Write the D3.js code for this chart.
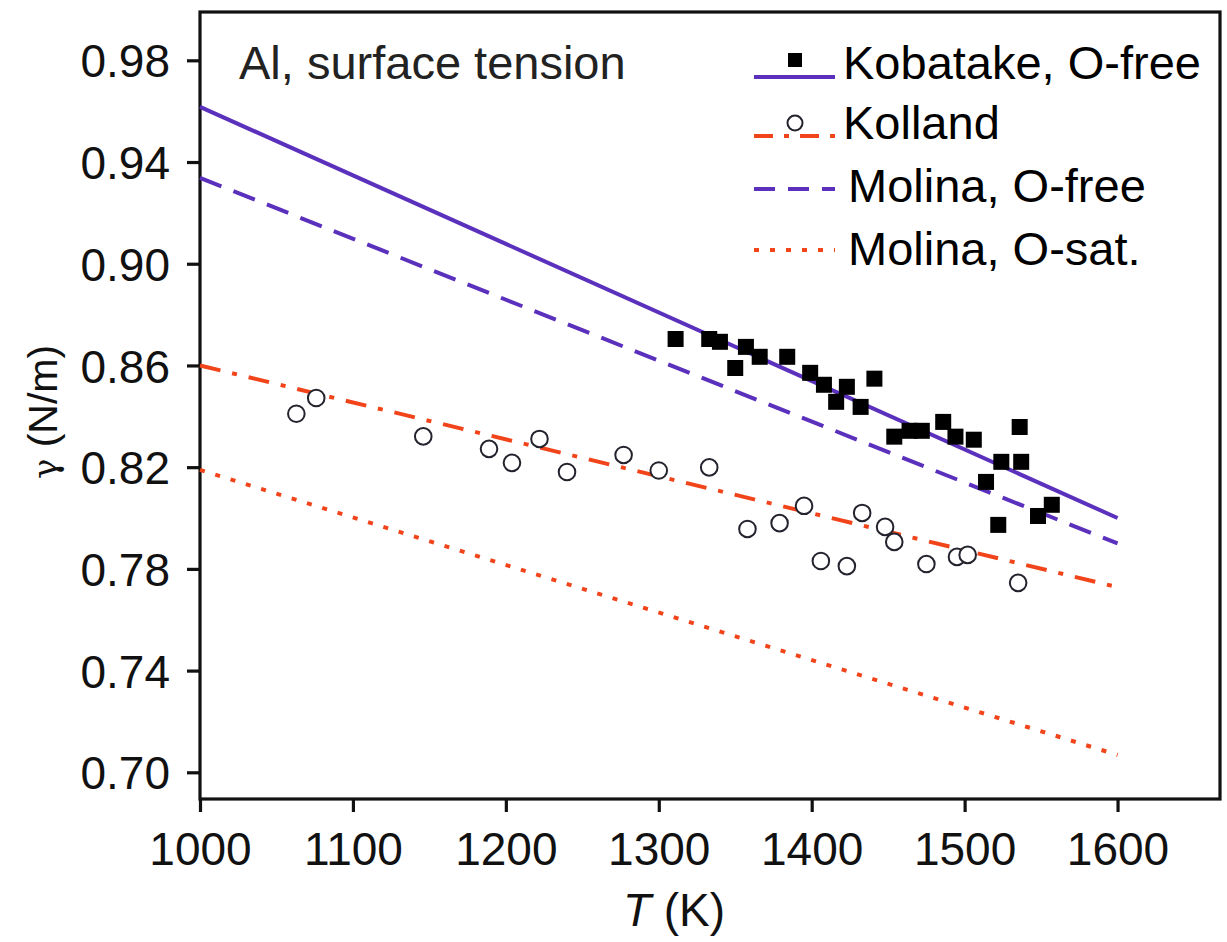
<!DOCTYPE html>
<html lang="en">
<head>
<meta charset="utf-8">
<title>Al surface tension</title>
<script src="https://d3js.org/d3.v7.min.js"></script>
<style>
  body { margin: 0; background: #fff; }
  svg text { font-family: "Liberation Sans", Arial, Helvetica, sans-serif; }
</style>
</head>
<body>
<div id="chart"></div>
<script>
// data
const kobatakeT = [1311, 1333, 1340, 1350, 1357, 1366, 1384, 1399, 1408, 1416, 1423, 1432, 1441,
  1454, 1464, 1472, 1486, 1494, 1506, 1514, 1522, 1524, 1536, 1537, 1548, 1557];
const kobatakeG = [0.8704, 0.8704, 0.8693, 0.8590, 0.8673, 0.8634, 0.8634, 0.8571, 0.8524, 0.8457, 0.8516, 0.8437, 0.8548,
  0.8320, 0.8343, 0.8343, 0.8378, 0.8320, 0.8308, 0.8142, 0.7973, 0.8221, 0.8358, 0.8221, 0.8008, 0.8052];

const kollandT = [1063, 1076, 1146, 1189, 1204, 1222, 1240, 1277, 1300, 1333, 1358, 1379, 1395,
  1406, 1423, 1433, 1448, 1454, 1475, 1495, 1502, 1535];
const kollandG = [0.8410, 0.8472, 0.8321, 0.8272, 0.8217, 0.8311, 0.8181, 0.8248, 0.8187, 0.8199, 0.7957, 0.7980, 0.8048,
  0.7831, 0.7811, 0.8020, 0.7965, 0.7906, 0.7819, 0.7847, 0.7855, 0.7745];

const fitT = [1000, 1600];
const kobatakeFit = [0.9617, 0.8000];
const kollandFit = [0.8600, 0.7728];
const molinaFreeFit = [0.9338, 0.7900];
const molinaSatFit = [0.8189, 0.7068];

const xTicks = [1000, 1100, 1200, 1300, 1400, 1500, 1600];
const yTicks = [0.70, 0.74, 0.78, 0.82, 0.86, 0.90, 0.94, 0.98];

const purple = "#5a30bd";
const orange = "#f2441a";

const drawChart = () => {
  const width = 1227, height = 942;
  const mLeft = 200, mRight = 1220, mTop = 12, mBottom = 799;

  const svg = d3.select("#chart").append("svg")
      .attr("width", width)
      .attr("height", height);

  const x = d3.scaleLinear().domain([1000, 1667]).range([mLeft, mRight]);
  const y = d3.scaleLinear().domain([0.6895, 0.999]).range([mBottom, mTop]);

  // axes
  const xAxis = svg.append("g")
      .attr("transform", `translate(0,${mBottom})`)
      .call(d3.axisBottom(x).tickValues(xTicks).tickFormat(d3.format("d")).tickSize(13).tickPadding(20));
  const yAxis = svg.append("g")
      .attr("transform", `translate(${mLeft},0)`)
      .call(d3.axisLeft(y).tickValues(yTicks).tickFormat(d3.format(".2f")).tickSize(13).tickPadding(17));

  [xAxis, yAxis].forEach(g => {
    g.select(".domain").remove();
    g.selectAll(".tick line").attr("stroke", "#111").attr("stroke-width", 3.2);
    g.selectAll(".tick text")
        .attr("fill", "#111")
        .style("font-size", "46px")
        .style("font-family", "'Liberation Sans', Arial, sans-serif");
  });
  yAxis.selectAll(".tick text").attr("dy", "0.36em");

  // frame
  svg.append("rect")
      .attr("x", mLeft).attr("y", mTop)
      .attr("width", mRight - mLeft).attr("height", mBottom - mTop)
      .attr("fill", "none")
      .attr("stroke", "#111")
      .attr("stroke-width", 3.2);

  // fit lines
  const line = d3.line().x(d => x(d[0])).y(d => y(d[1]));
  const fits = [
    { vals: molinaSatFit, color: orange, dash: "5,11" },
    { vals: kollandFit, color: orange, dash: "21,12,5,12" },
    { vals: molinaFreeFit, color: purple, dash: "23,13" },
    { vals: kobatakeFit, color: purple, dash: null }
  ];
  svg.append("g")
      .attr("fill", "none")
      .selectAll("path")
      .data(fits)
      .join("path")
      .attr("d", d => line(fitT.map((t, i) => [t, d.vals[i]])))
      .attr("stroke", d => d.color)
      .attr("stroke-width", 4)
      .attr("stroke-dasharray", d => d.dash);

  // Kolland points
  svg.append("g")
      .selectAll("circle")
      .data(kollandT.map((t, i) => [t, kollandG[i]]))
      .join("circle")
      .attr("cx", d => x(d[0]))
      .attr("cy", d => y(d[1]))
      .attr("r", 8.3)
      .attr("fill", "#fff")
      .attr("stroke", "#23232e")
      .attr("stroke-width", 2);

  // Kobatake points
  const sq = 16;
  svg.append("g")
      .selectAll("rect")
      .data(kobatakeT.map((t, i) => [t, kobatakeG[i]]))
      .join("rect")
      .attr("x", d => x(d[0]) - sq / 2)
      .attr("y", d => y(d[1]) - sq / 2)
      .attr("width", sq)
      .attr("height", sq)
      .attr("fill", "#000");

  // title
  svg.append("text")
      .attr("x", 239).attr("y", 79)
      .attr("fill", "#222")
      .style("font-size", "47px")
      .text("Al, surface tension");

  // legend
  const legend = svg.append("g");
  const legendRows = [
    { label: "Kobatake, O-free", color: purple, dash: null, ly: 77, marker: "square", my: 60, tx: 843, ty: 79 },
    { label: "Kolland", color: orange, dash: "19,11,5,11", ly: 136, marker: "circle", my: 123, tx: 843, ty: 139 },
    { label: "Molina, O-free", color: purple, dash: "21,13", ly: 189, marker: null, tx: 848, ty: 202 },
    { label: "Molina, O-sat.", color: orange, dash: "5,11", ly: 250, marker: null, tx: 848, ty: 265 }
  ];
  legendRows.forEach(r => {
    legend.append("line")
        .attr("x1", 754).attr("x2", 835)
        .attr("y1", r.ly).attr("y2", r.ly)
        .attr("stroke", r.color)
        .attr("stroke-width", 4)
        .attr("stroke-dasharray", r.dash);
    if (r.marker === "square") {
      legend.append("rect")
          .attr("x", 795 - 7).attr("y", r.my - 7)
          .attr("width", 14).attr("height", 14)
          .attr("fill", "#000");
    } else if (r.marker === "circle") {
      legend.append("circle")
          .attr("cx", 795).attr("cy", r.my).attr("r", 7.5)
          .attr("fill", "#fff")
          .attr("stroke", "#23232e")
          .attr("stroke-width", 2);
    }
    legend.append("text")
        .attr("x", r.tx).attr("y", r.ty)
        .attr("fill", "#000")
        .style("font-size", "47px")
        .text(r.label);
  });

  // axis titles
  const xTitle = svg.append("text")
      .attr("x", 674).attr("y", 926)
      .attr("text-anchor", "middle")
      .attr("fill", "#111")
      .style("font-size", "46px");
  xTitle.append("tspan").attr("font-style", "italic").text("T");
  xTitle.append("tspan").text(" (K)");

  const yTitle = svg.append("text")
      .attr("transform", "translate(57,412) rotate(-90)")
      .attr("text-anchor", "middle")
      .attr("fill", "#111")
      .style("font-size", "41px");
  yTitle.append("tspan")
      .style("font-family", "'DejaVu Serif', serif")
      .style("font-size", "34px")
      .text("γ");
  yTitle.append("tspan").text(" (N/m)");
};

drawChart();
</script>
</body>
</html>
